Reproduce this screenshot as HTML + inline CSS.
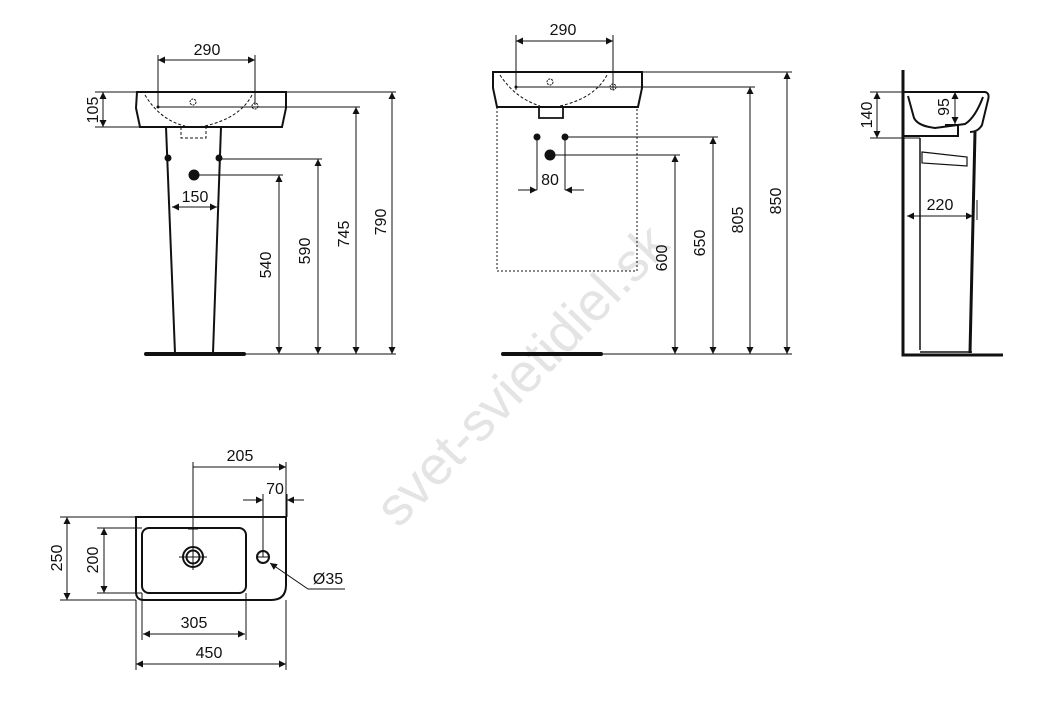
<!DOCTYPE html>
<html><head><meta charset="utf-8"><style>
html,body{margin:0;padding:0;background:#fff;}
svg{display:block;}
text{font-family:"Liberation Sans",Arial,sans-serif;font-size:16px;fill:#111;}
</style></head><body>
<svg width="1059" height="725" viewBox="0 0 1059 725" xmlns="http://www.w3.org/2000/svg">
<defs>
<marker id="a" viewBox="0 0 10 10" refX="10" refY="5" markerWidth="11" markerHeight="7" orient="auto-start-reverse" markerUnits="userSpaceOnUse"><path d="M0,0L10,5L0,10z" fill="#111"/></marker>
</defs>
<text x="535" y="388" transform="rotate(-46 535 388)" text-anchor="middle" style="font-size:54px;fill:#e4e4e4;">svet-svietidiel.sk</text>
<g stroke="#111" fill="none" stroke-width="1">
<!-- FRONT VIEW -->
<path d="M137,92 L286,92 L286,108 L282,127 L140,127 L136,108 Z" stroke-width="2"/>
<path d="M145,95 Q160,120 185,126 M205,126 Q240,118 252,95" stroke-dasharray="3,2"/>
<circle cx="193" cy="102" r="3" stroke-dasharray="2,1"/>
<circle cx="255" cy="106" r="3" stroke-dasharray="2,1"/>
<path d="M181,127 L181,138 L206,138 L206,127" stroke-dasharray="3,2"/>
<path d="M166,127 L175,353 M221,127 L213,353" stroke-width="2"/>
<path d="M146,354 L244,354" stroke-width="4" stroke-linecap="round"/>
<path d="M158,55 V107 M255,55 V105"/>
<path d="M158,60 H255" marker-start="url(#a)" marker-end="url(#a)"/>
<path d="M95,92 H137 M95,127 H140"/>
<path d="M103,92 V127" marker-start="url(#a)" marker-end="url(#a)"/>
<path d="M172,207 H217" marker-start="url(#a)" marker-end="url(#a)"/>
<path d="M245,354 H396 M287,92 H396 M158,107 H360 M220,159 H322 M194,175 H283"/>
<path d="M279,175 V354" marker-start="url(#a)" marker-end="url(#a)"/>
<path d="M318,159 V354" marker-start="url(#a)" marker-end="url(#a)"/>
<path d="M356,107 V354" marker-start="url(#a)" marker-end="url(#a)"/>
<path d="M392,92 V354" marker-start="url(#a)" marker-end="url(#a)"/>
<!-- MIDDLE VIEW -->
<path d="M493,72 L642,72 L642,88 L638,107 L497,107 L493,88 Z" stroke-width="2"/>
<path d="M500,75 Q515,98 540,106 M560,106 Q595,98 607,75" stroke-dasharray="3,2"/>
<circle cx="550" cy="82" r="3" stroke-dasharray="2,1"/>
<circle cx="613" cy="87" r="3" stroke-dasharray="2,1"/>
<path d="M539,107 V118 H563 V107" stroke-width="1.8"/>
<path d="M497,107 V271 H637 V107" stroke-dasharray="2,2"/>
<path d="M516,35 V90 M613,35 V90"/>
<path d="M516,41 H613" marker-start="url(#a)" marker-end="url(#a)"/>
<path d="M516,87 H755 M642,72 H792 M565,137 H718 M550,155 H680 M602,354 H792"/>
<path d="M537,137 V190 M565,137 V190"/>
<path d="M518,190 H537" marker-end="url(#a)"/><path d="M584,190 H565" marker-end="url(#a)"/>
<path d="M675,155 V354" marker-start="url(#a)" marker-end="url(#a)"/>
<path d="M713,137 V354" marker-start="url(#a)" marker-end="url(#a)"/>
<path d="M750,87 V354" marker-start="url(#a)" marker-end="url(#a)"/>
<path d="M787,72 V354" marker-start="url(#a)" marker-end="url(#a)"/>
<path d="M503,354 L601,354" stroke-width="4" stroke-linecap="round"/>
<!-- SIDE VIEW -->
<path d="M903,70 V355 H1003" stroke-width="3"/>
<path d="M903,92 H985 Q990,93 988,100 L982,125 Q978,132 970,132 M903,136 L958,136 L958,125 L945,125" stroke-width="2"/>
<path d="M908,96 L914,118 Q918,126 935,128 L965,124 Q975,118 983,97" stroke-width="2"/>
<path d="M920,138 V350 M920,352 H972" stroke-width="1.5"/>
<path d="M975,132 L970,353" stroke-width="3"/>
<path d="M922,152 L967,157 L967,166 L922,163 Z" stroke-width="1.2"/>
<path d="M870,92 H903 M870,138 H920"/>
<path d="M877,92 V138" marker-start="url(#a)" marker-end="url(#a)"/>
<path d="M955,92 V124" marker-start="url(#a)" marker-end="url(#a)"/>
<path d="M907,216 H973" marker-start="url(#a)" marker-end="url(#a)"/>
<path d="M977,200 V220"/>
<!-- TOP VIEW -->
<path d="M136,517 H286 V585 Q286,600 271,600 H144 Q136,600 136,592 Z" stroke-width="2"/>
<rect x="142" y="528" width="104" height="65" rx="7" stroke-width="2"/>
<circle cx="193" cy="557" r="10" stroke-width="2"/><circle cx="193" cy="557" r="6.5" stroke-width="2"/>
<circle cx="263" cy="557" r="6" stroke-width="2"/>
<path d="M179,557 H207 M256,557 H270 M193,545 V570 M188,529 H198"/>
<path d="M193,462 V557 M286,462 V517 M263,494 V557 M287,494 V517"/>
<path d="M193,467 H286" marker-end="url(#a)"/>
<path d="M243,500 H263" marker-end="url(#a)"/><path d="M304,500 H287" marker-end="url(#a)"/>
<path d="M60,517 H136 M60,600 H136 M97,528 H142 M97,593 H142"/>
<path d="M67,517 V600" marker-start="url(#a)" marker-end="url(#a)"/>
<path d="M104,528 V593" marker-start="url(#a)" marker-end="url(#a)"/>
<path d="M142,593 V640 M246,593 V640 M136,600 V670 M286,600 V670"/>
<path d="M143,634 H245" marker-start="url(#a)" marker-end="url(#a)"/>
<path d="M136,664 H286" marker-start="url(#a)" marker-end="url(#a)"/>
<path d="M345,589 H308 L270,563" marker-end="url(#a)"/>
</g>
<g fill="#111">
<circle cx="168" cy="158" r="3.5"/><circle cx="219" cy="158" r="3.5"/><circle cx="194" cy="175" r="5.5"/>
<circle cx="537" cy="137" r="3.5"/><circle cx="565" cy="137" r="3.5"/><circle cx="550" cy="155" r="5.5"/>
<circle cx="158" cy="107" r="1.5"/><circle cx="516" cy="87" r="1.5"/>
</g>
<text x="207" y="55" text-anchor="middle">290</text>
<text x="195" y="202" text-anchor="middle">150</text>
<text x="563" y="35" text-anchor="middle">290</text>
<text x="550" y="185" text-anchor="middle">80</text>
<text x="940" y="210" text-anchor="middle">220</text>
<text x="240" y="461" text-anchor="middle">205</text>
<text x="275" y="494" text-anchor="middle">70</text>
<text x="194" y="628" text-anchor="middle">305</text>
<text x="209" y="658" text-anchor="middle">450</text>
<text x="328" y="584" text-anchor="middle">Ø35</text>
<g text-anchor="middle">
<text transform="translate(98,110) rotate(-90)">105</text>
<text transform="translate(271,265) rotate(-90)">540</text>
<text transform="translate(310,251) rotate(-90)">590</text>
<text transform="translate(349,234) rotate(-90)">745</text>
<text transform="translate(386,222) rotate(-90)">790</text>
<text transform="translate(667,258) rotate(-90)">600</text>
<text transform="translate(705,243) rotate(-90)">650</text>
<text transform="translate(743,220) rotate(-90)">805</text>
<text transform="translate(781,201) rotate(-90)">850</text>
<text transform="translate(872,115) rotate(-90)">140</text>
<text transform="translate(949,107) rotate(-90)">95</text>
<text transform="translate(62,558) rotate(-90)">250</text>
<text transform="translate(98,560) rotate(-90)">200</text>
</g>
</svg>
</body></html>
